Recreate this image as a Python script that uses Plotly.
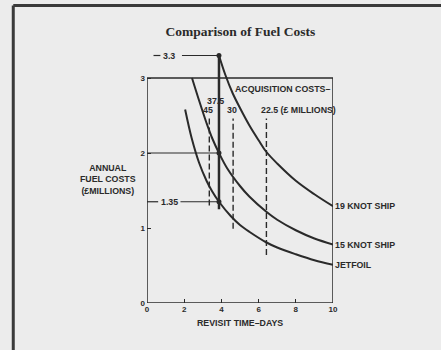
import plotly.graph_objects as go

# Revisit time (days) and annual fuel cost (£ millions) for each vessel type
jetfoil_x = [2.05, 2.4, 2.8, 3.2, 3.5, 3.87, 4.5, 5.0, 5.5, 6.4, 7.0, 8.0, 9.0, 10.0]
jetfoil_y = [2.58, 2.20, 1.87, 1.63, 1.49, 1.35, 1.16, 1.04, 0.95, 0.81, 0.74, 0.65, 0.57, 0.51]

knot15_x = [2.42, 2.8, 3.2, 3.5, 3.87, 4.3, 5.0, 5.5, 6.4, 7.0, 8.0, 9.0, 10.0]
knot15_y = [3.00, 2.70, 2.40, 2.20, 2.00, 1.80, 1.56, 1.42, 1.22, 1.11, 0.97, 0.86, 0.78]

knot19_x = [3.87, 4.2, 4.6, 5.0, 5.5, 6.0, 6.4, 7.0, 8.0, 9.0, 10.0]
knot19_y = [3.30, 3.05, 2.80, 2.60, 2.37, 2.17, 2.02, 1.86, 1.63, 1.45, 1.29]

series_names = ["JETFOIL", "15 KNOT SHIP", "19 KNOT SHIP"]

# Acquisition cost markers (£ millions) and the revisit time they sit at
acq_labels = ["45", "30", "22.5"]
acq_x = [3.35, 4.63, 6.42]
acq_bottom = [1.30, 0.99, 0.64]
acq_top = 2.46

ref_x = 3.87
ref_costs = [3.3, 2.0, 1.35]

x_ticks = [0, 2, 4, 6, 8, 10]
y_ticks = [0, 1, 2, 3]

INK = "#2a2a2a"
BG = "#ececec"
SANS = "Liberation Sans"

fig = go.Figure()

for xs, ys in [(knot19_x, knot19_y), (knot15_x, knot15_y), (jetfoil_x, jetfoil_y)]:
    fig.add_trace(go.Scatter(
        x=xs, y=ys, mode="lines",
        line=dict(color=INK, width=2, shape="spline", smoothing=1.0),
        hoverinfo="skip", showlegend=False,
    ))

# dots where the reference time meets each curve
fig.add_trace(go.Scatter(
    x=[ref_x] * len(ref_costs), y=ref_costs, mode="markers",
    marker=dict(color=INK, size=5), showlegend=False, cliponaxis=False,
))

shapes = []
# chart frame (0..10 by 0..3)
shapes.append(dict(type="rect", xref="x", yref="y", x0=0, x1=10, y0=0, y1=3,
                   line=dict(color=INK, width=1.5), layer="below"))
# solid reference line at 37.5
shapes.append(dict(type="line", xref="x", yref="y", x0=ref_x, x1=ref_x,
                   y0=1.25, y1=ref_costs[0], line=dict(color=INK, width=2.5)))
# horizontal read-off lines
shapes.append(dict(type="line", xref="x", yref="y", x0=0, x1=ref_x, y0=2, y1=2,
                   line=dict(color=INK, width=1.2)))
for x0, x1 in [(0.35, 0.72), (1.88, ref_x)]:
    shapes.append(dict(type="line", xref="x", yref="y", x0=x0, x1=x1,
                       y0=ref_costs[0], y1=ref_costs[0], line=dict(color=INK, width=1.2)))
for x0, x1 in [(0, 0.6), (1.8, ref_x)]:
    shapes.append(dict(type="line", xref="x", yref="y", x0=x0, x1=x1,
                       y0=ref_costs[2], y1=ref_costs[2], line=dict(color=INK, width=1.2)))
# dashed acquisition-cost lines
for xv, yb in zip(acq_x, acq_bottom):
    shapes.append(dict(type="line", xref="x", yref="y", x0=xv, x1=xv, y0=yb, y1=acq_top,
                       line=dict(color=INK, width=1.4, dash="6px,3px")))

# outer page frame
shapes.append(dict(type="line", xref="paper", yref="paper",
                   x0=-0.719, x1=1.6, y0=1.167, y1=1.167, line=dict(color="#3a3a3a", width=3)))
shapes.append(dict(type="line", xref="paper", yref="paper",
                   x0=-0.719, x1=-0.719, y0=1.167, y1=-0.3, line=dict(color="#3a3a3a", width=3)))

small = dict(family=SANS, size=8.8, color=INK, weight="bold")
ann = []


def label(text, x, y, xanchor="center", xref="x", **kw):
    ann.append(dict(text=text, x=x, y=y, xref=xref, yref="y", showarrow=False,
                    xanchor=xanchor, yanchor="middle", font=small, **kw))


label("3.3", 1.2, ref_costs[0])
label("1.35", 1.2, ref_costs[2])
label("37.5", 3.67, 2.70)
for t, xv in zip(acq_labels[:2], acq_x[:2]):
    label(t, xv - 0.05, 2.57)
label("22.5 (£ MILLIONS)", 6.0, 2.57, xanchor="left")
label("ACQUISITION COSTS–", 4.6, 2.86, xanchor="left")
for name, ys in zip(series_names, [jetfoil_y, knot15_y, knot19_y]):
    label(name, 1.0, ys[-1], xanchor="left", xref="paper")

ann.append(dict(text="ANNUAL<br>FUEL COSTS<br>(£MILLIONS)", x=-0.21, y=0.485,
                xref="paper", yref="paper", showarrow=False, align="center",
                font=small, xanchor="center", yanchor="middle"))
ann.append(dict(text="REVISIT TIME–DAYS", x=0.5, y=0, xref="paper", yref="paper",
                yshift=-20, showarrow=False, font=small, yanchor="middle"))

tickfont = dict(family=SANS, size=8, color=INK, weight="bold")

fig.update_layout(
    width=441, height=350,
    margin=dict(l=146.7, r=108.3, t=47.7, b=47.3),
    paper_bgcolor=BG, plot_bgcolor=BG,
    title=dict(text="<b>Comparison of Fuel Costs</b>", x=0.545, xanchor="center",
               y=1 - 31 / 350, yanchor="middle", yref="container",
               font=dict(family="Liberation Serif", size=13.5, color=INK)),
    shapes=shapes, annotations=ann,
    xaxis=dict(range=[0, 10], tickvals=x_ticks, ticks="inside", ticklen=4, tickwidth=1.2,
               tickcolor=INK, showgrid=False, zeroline=False, showline=False,
               tickfont=tickfont, ticklabelstandoff=0),
    yaxis=dict(range=[0, 3.4], tickvals=y_ticks, ticks="inside", ticklen=4, tickwidth=1.2,
               tickcolor=INK, showgrid=False, zeroline=False, showline=False,
               tickfont=tickfont, ticklabelstandoff=1),
)

fig.write_html("out.html")
